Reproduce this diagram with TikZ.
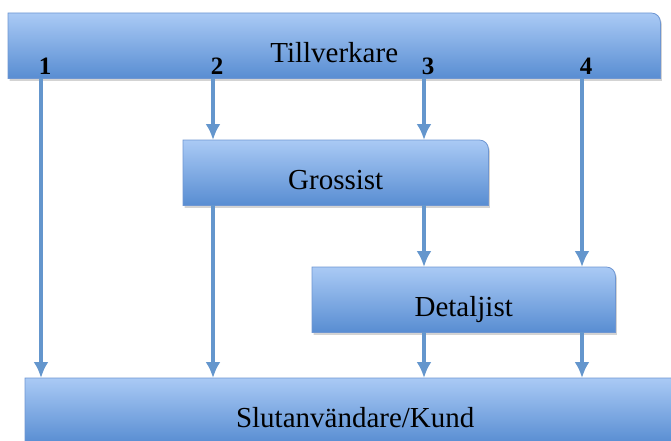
\documentclass[tikz,border=0pt]{standalone}
\usepackage{fontspec}
\setmainfont{Liberation Serif}
\usetikzlibrary{arrows.meta,backgrounds,shadows,positioning}
\definecolor{boxtop}{RGB}{170,202,245}
\definecolor{boxmid}{RGB}{128,170,228}
\definecolor{boxbot}{RGB}{88,141,210}
\definecolor{boxline}{RGB}{110,150,210}
\definecolor{flowline}{RGB}{100,150,205}
\tikzset{
    box/.style={rectangle, anchor=north west, inner sep=0pt, minimum height=65,
        text height=33pt, text depth=0pt, font=\fontsize{29}{34}\selectfont},
    num/.style={anchor=south, inner sep=0pt, text depth=0pt,
        font=\fontsize{25}{30}\selectfont\bfseries},
    flow/.style={-{Latex[length=16pt,width=15pt]}, line width=3.4pt, draw=flowline},
    panel/.style={top color=boxtop, middle color=boxmid, bottom color=boxbot,
        draw=boxline, line width=.8pt,
        drop shadow={opacity=.35, shadow xshift=1.5pt, shadow yshift=-2.5pt}}
}

\begin{document}
\begin{tikzpicture}[x=1pt, y=-1pt]
  \clip (0,0) rectangle (671,441);

  % Draw the nodes
  \node[box, minimum width=652] (maker) at (8,13) {Tillverkare};
  \node[box, minimum width=305] (whole) at (183,140) {Grossist};
  \node[box, minimum width=303] (retail) at (312,267) {Detaljist};
  \node[box, minimum width=660] (buyer) at (25,378) {Slutanvändare/Kund};

  % Boxes behind the text
  \begin{scope}[on background layer]
    \foreach \n in {maker,whole,retail,buyer}
      \path[panel] (\n.south west) -- (\n.north west) -- ([xshift=-9pt]\n.north east)
        arc[start angle=90, end angle=0, radius=9pt] -- (\n.south east) -- cycle;
  \end{scope}

  % Channel columns
  \coordinate (c1) at (41,0);
  \coordinate (c2) at (213,0);
  \coordinate (c3) at (424,0);
  \coordinate (c4) at (582,0);

  \foreach \i in {1,...,4}
    \node[num] (n\i) at ([xshift=4pt,yshift=4pt]c\i |- maker.south) {\i};

  % Draw the arrows
  \draw[flow] (maker.south -| c1) -- (buyer.north -| c1);
  \draw[flow] (maker.south -| c2) -- (whole.north -| c2);
  \draw[flow] (whole.south -| c2) -- (buyer.north -| c2);
  \draw[flow] (maker.south -| c3) -- (whole.north -| c3);
  \draw[flow] (whole.south -| c3) -- (retail.north -| c3);
  \draw[flow] (retail.south -| c3) -- (buyer.north -| c3);
  \draw[flow] (maker.south -| c4) -- (retail.north -| c4);
  \draw[flow] (retail.south -| c4) -- (buyer.north -| c4);
\end{tikzpicture}
\end{document}
